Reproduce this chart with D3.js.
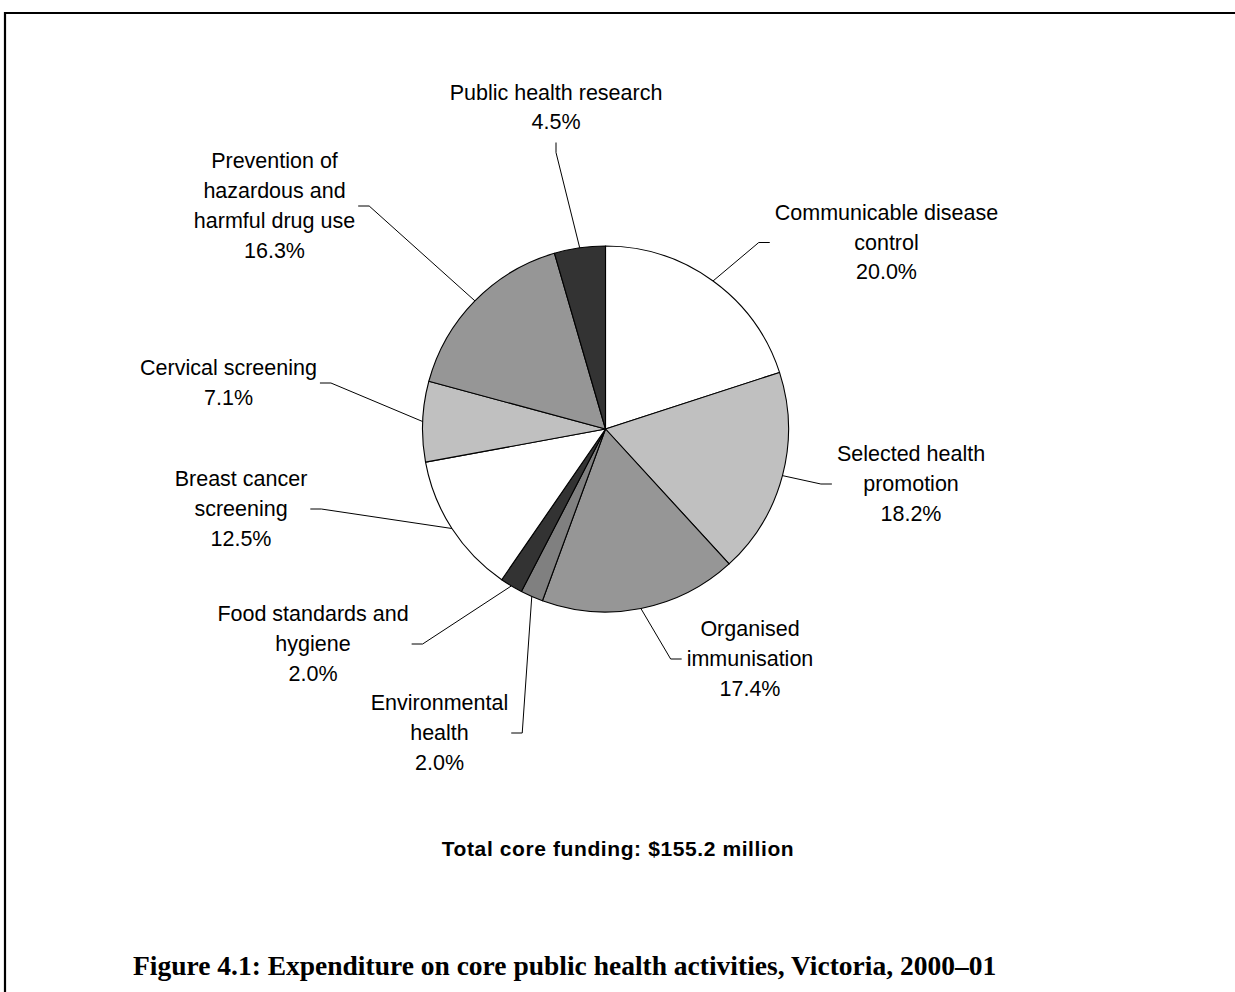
<!DOCTYPE html>
<html>
<head>
<meta charset="utf-8">
<script src="https://cdn.jsdelivr.net/npm/d3@7"></script>
<style>
  html, body { margin: 0; padding: 0; background: #ffffff; }
  svg { display: block; }
  .lbl { font-family: "Liberation Sans", Arial, sans-serif; font-size: 21.5px; fill: #000; }
</style>
</head>
<body>
<svg id="chart" width="1235" height="992"></svg>
<script>
// Core public health activity categories, clockwise from 12 o'clock
const categories = [
  "Communicable disease control",
  "Selected health promotion",
  "Organised immunisation",
  "Environmental health",
  "Food standards and hygiene",
  "Breast cancer screening",
  "Cervical screening",
  "Prevention of hazardous and harmful drug use",
  "Public health research"
];
// Share of total core funding (%)
const shares = [20.0, 18.2, 17.4, 2.0, 2.0, 12.5, 7.1, 16.3, 4.5];
// How each category name wraps in its label
const labelLines = [
  ["Communicable disease", "control"],
  ["Selected health", "promotion"],
  ["Organised", "immunisation"],
  ["Environmental", "health"],
  ["Food standards and", "hygiene"],
  ["Breast cancer", "screening"],
  ["Cervical screening"],
  ["Prevention of", "hazardous and", "harmful drug use"],
  ["Public health research"]
];
const totalText = "Total core funding: $155.2 million";
const titleText = "Figure 4.1: Expenditure on core public health activities, Victoria, 2000\u201301";

// Slice fills
const fills = ["#ffffff", "#c0c0c0", "#969696", "#808080", "#333333",
               "#ffffff", "#c0c0c0", "#969696", "#333333"];

// Label block centres, relative to the pie centre, and the side the leader enters from
const labelPos = [
  [281, -186.5], [305.5, 55], [144.5, 230], [-166, 304], [-292.5, 215],
  [-364.5, 80], [-377, -46], [-331, -223], [-49.5, -321.5]
];
const labelSide = ["left", "left", "left", "right", "right", "right", "right", "right", "bottom"];

const svg = d3.select("#chart");
const W = 1235, H = 992;
const cx = 605.5, cy = 429, R = 183;
const lineH = 29.7, legLen = 11, gap = 4;

// Page frame (top and left rules)
svg.append("path")
  .attr("d", `M5,${H} V13 H${W}`)
  .attr("fill", "none")
  .attr("stroke", "#000")
  .attr("stroke-width", 2.2);

const data = categories.map((c, i) => ({ name: c, value: shares[i], i }));
const pie = d3.pie().value(d => d.value).sort(null).startAngle(0).endAngle(2 * Math.PI);
const arcs = pie(data);
const arc = d3.arc().innerRadius(0).outerRadius(R);
const edge = d3.arc().innerRadius(R).outerRadius(R);

const g = svg.append("g").attr("transform", `translate(${cx},${cy})`);

g.selectAll("path.slice")
  .data(arcs)
  .join("path")
  .attr("class", "slice")
  .attr("d", arc)
  .attr("fill", d => fills[d.data.i])
  .attr("stroke", "#000")
  .attr("stroke-width", 1.1)
  .attr("stroke-linejoin", "round");

// Labels: wrapped name plus the percentage
const labels = g.selectAll("g.label")
  .data(arcs)
  .join("g")
  .attr("class", "label");

labels.each(function (d) {
  const i = d.data.i;
  const lines = labelLines[i].concat([d3.format(".1f")(d.data.value) + "%"]);
  const [lx, ly] = labelPos[i];
  const n = lines.length;
  const t = d3.select(this).append("text")
    .attr("class", "lbl")
    .attr("text-anchor", "middle");
  lines.forEach((s, k) => {
    t.append("tspan")
      .attr("x", lx)
      .attr("y", ly + (k - (n - 1) / 2) * lineH + 7)
      .text(s);
  });
  // widest line decides where the leader meets the label
  let wMax = 0;
  t.selectAll("tspan").each(function () {
    wMax = Math.max(wMax, this.getComputedTextLength());
  });
  const side = labelSide[i];
  let tail, elbow;
  if (side === "left") {
    tail = [lx - wMax / 2 - gap - 1, ly];
    elbow = [tail[0] - legLen, ly];
  } else if (side === "right") {
    tail = [lx + wMax / 2 + gap - 1, ly];
    elbow = [tail[0] + legLen, ly];
  } else {
    tail = [lx, ly + 35];
    elbow = [lx, ly + 35 + legLen - 1];
  }
  const start = edge.centroid(d);
  d3.select(this).append("path")
    .attr("d", d3.line()([tail, elbow, start]))
    .attr("fill", "none")
    .attr("stroke", "#000")
    .attr("stroke-width", 1);
});

// Total funding note
svg.append("text")
  .attr("x", 618)
  .attr("y", 856)
  .attr("text-anchor", "middle")
  .attr("font-family", "'Liberation Sans', Arial, sans-serif")
  .attr("font-weight", "bold")
  .attr("font-size", 21)
  .attr("letter-spacing", 0.6)
  .text(totalText);

// Figure caption
svg.append("text")
  .attr("x", 133)
  .attr("y", 975)
  .attr("font-family", "'Liberation Serif', 'Times New Roman', serif")
  .attr("font-weight", "bold")
  .attr("font-size", 27.5)
  .text(titleText);
</script>
</body>
</html>
